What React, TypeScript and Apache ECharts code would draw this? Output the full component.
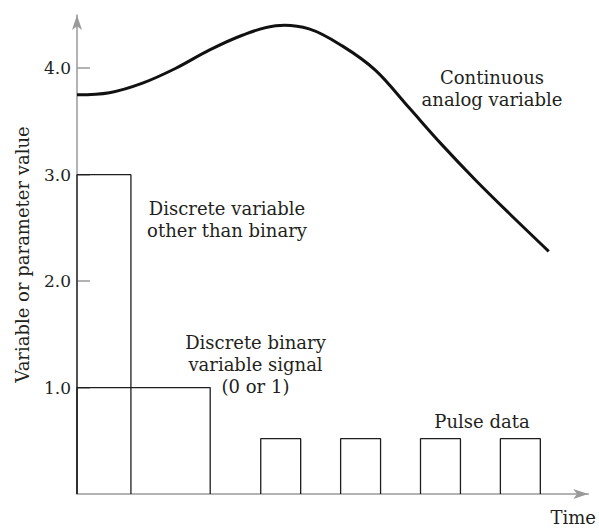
import React, { useEffect, useRef } from "react";
import * as echarts from "echarts";

// Continuous analog variable (time units, value)
const curveTime = [0, 1.62, 3.28, 4.95, 6.62, 8.28, 9.95, 11.62, 13.28, 14.95, 16.62, 18.28, 19.95, 21.62, 23.62];
const curveValue = [3.75, 3.77, 3.86, 4.0, 4.17, 4.31, 4.4, 4.37, 4.21, 3.98, 3.63, 3.28, 2.95, 2.64, 2.28];

// Discrete variable other than binary
const discreteStart = 0;
const discreteEnd = 2.7;
const discreteLevel = 3.0;

// Discrete binary variable signal
const binaryStart = 0;
const binaryEnd = 6.67;
const binaryLevel = 1.0;

// Pulse data
const pulseStarts = [9.2, 13.2, 17.2, 21.2];
const pulseWidth = 2.0;
const pulseLevel = 0.52;

// Y axis tick labels
const yTicks = [1, 2, 3, 4];

const FONT = "DejaVu Serif";
const TEXT = "#231f20";
const AXIS = "#9a9a9a";
const INK = "#1e1e1e";
const FS = 18;

function box(x0: number, x1: number, h: number) {
  return [
    [x0, 0],
    [x0, h],
    [x1, h],
    [x1, 0],
  ];
}

export default function App() {
  const ref = useRef<HTMLDivElement>(null);
  useEffect(() => {
    if (!ref.current) return;
    const chart = echarts.init(ref.current, null, { renderer: "svg" });
    const rectLine = (name: string, data: number[][]) => ({
      name,
      type: "line",
      data,
      showSymbol: false,
      symbol: "none",
      smooth: false,
      lineStyle: { color: INK, width: 1.3 },
      z: 3,
    });
    const annot = (x: number, y: number, text: string, lh: number) => ({
      type: "text",
      x,
      y,
      style: {
        text,
        font: `${FS}px "${FONT}"`,
        fill: TEXT,
        align: "center",
        verticalAlign: "top",
        lineHeight: lh,
      },
    });
    const curveData = curveTime.map((t, i) => [t, curveValue[i]]);
    const option: any = {
      animation: false,
      backgroundColor: "#ffffff",
      grid: { left: 77, right: 10, top: 15, bottom: 34, containLabel: false },
      xAxis: {
        type: "value",
        min: 0,
        max: 25.6,
        name: "Time",
        nameLocation: "end",
        nameGap: -15,
        nameTextStyle: {
          fontFamily: FONT,
          fontSize: FS,
          color: TEXT,
          align: "center",
          verticalAlign: "top",
          padding: [14, 0, 0, 0],
        },
        axisLine: {
          show: true,
          symbol: ["none", "arrow"],
          symbolSize: [7.5, 15],
          lineStyle: { color: AXIS, width: 1.5 },
        },
        axisTick: { show: false },
        axisLabel: { show: false },
        splitLine: { show: false },
      },
      yAxis: {
        type: "value",
        min: 0,
        max: 4.5,
        name: "Variable or parameter value",
        nameLocation: "middle",
        nameGap: 46,
        nameRotate: 90,
        nameTextStyle: { fontFamily: FONT, fontSize: FS, color: TEXT },
        axisLine: {
          show: true,
          symbol: ["none", "arrow"],
          symbolSize: [7.5, 15],
          lineStyle: { color: AXIS, width: 1.5 },
        },
        axisTick: {
          show: true,
          inside: true,
          length: 13,
          customValues: yTicks,
          lineStyle: { color: AXIS, width: 1.5 },
        },
        axisLabel: {
          show: true,
          customValues: yTicks,
          formatter: (v: number) => v.toFixed(1),
          fontFamily: FONT,
          fontSize: 17,
          color: TEXT,
          margin: 6,
        },
        splitLine: { show: false },
      },
      series: [
        {
          name: "Continuous analog variable",
          type: "custom",
          data: curveData,
          encode: { x: 0, y: 1 },
          renderItem: (params: any, api: any) => {
            if (params.dataIndex !== 0) return null;
            const points = curveData.map((p) => api.coord(p));
            return {
              type: "polyline",
              shape: { points, smooth: 0.35 },
              style: { stroke: "#111111", lineWidth: 3, fill: "none" },
              z2: 10,
            };
          },
          z: 4,
        },
        rectLine("Discrete variable other than binary", box(discreteStart, discreteEnd, discreteLevel)),
        rectLine("Discrete binary variable signal", box(binaryStart, binaryEnd, binaryLevel)),
        ...pulseStarts.map((s, i) => rectLine("Pulse " + (i + 1), box(s, s + pulseWidth, pulseLevel))),
      ],
      graphic: [
        annot(492, 66, "Continuous\nanalog variable", 22.5),
        annot(227, 197, "Discrete variable\nother than binary", 22.5),
        annot(255.5, 331, "Discrete binary\nvariable signal\n(0 or 1)", 22),
        annot(482, 410, "Pulse data", 22),
      ],
    };
    chart.setOption(option);
    return () => chart.dispose();
  }, []);
  return (
    <div
      ref={ref}
      style={{ position: "absolute", left: 0, top: 0, width: 599, height: 528 }}
    />
  );
}
